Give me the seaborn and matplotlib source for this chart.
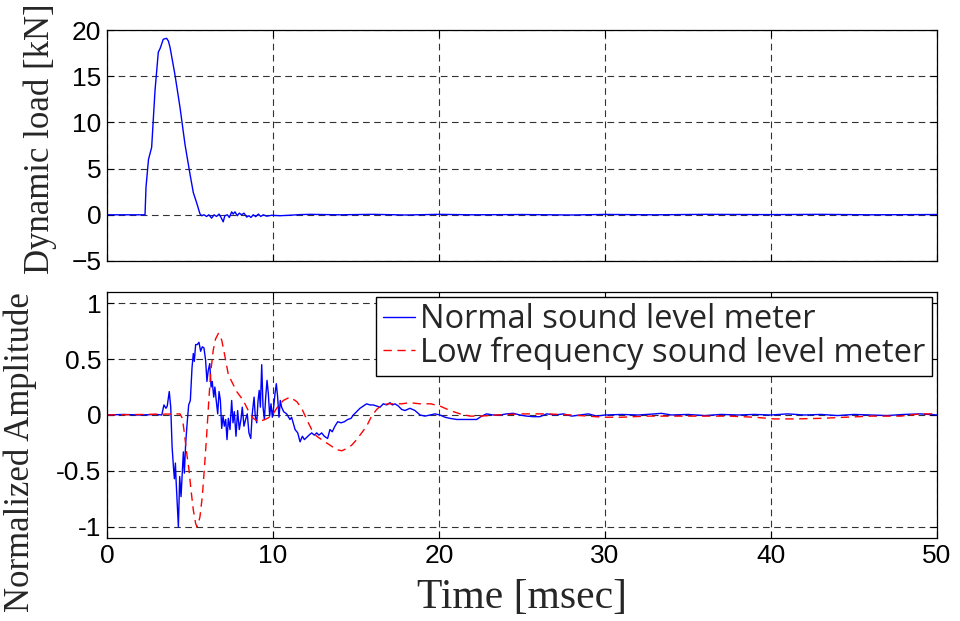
import numpy as np
import pandas as pd
import matplotlib
matplotlib.use("Agg")
import matplotlib.pyplot as plt
import seaborn as sns

# ---------------- data ----------------
t_load = [0, 2.29, 2.35, 2.5, 2.69, 2.89, 3.09, 3.2, 3.39, 3.59, 3.7, 3.8, 4.09, 4.4, 4.7,
          5.0, 5.2, 5.4, 5.6, 5.7, 5.84, 6.0, 6.14, 6.3, 6.45, 6.6, 6.75, 6.87, 7.0, 7.1,
          7.25, 7.37, 7.51, 7.6, 7.71, 7.85, 7.97, 8.11, 8.25, 8.42, 8.55, 8.67, 8.81, 8.96,
          9.12, 9.26, 9.42, 9.62, 9.92, 10.42, 11.0, 11.6, 12.2, 14, 16, 18, 20, 22, 25, 28,
          30, 33, 36, 40, 43, 46, 50]
load_kN = [0, 0, 3.0, 6.0, 7.3, 13.4, 17.6, 18.0, 19.0, 19.1, 18.8, 18.1, 15.2, 11.6, 7.6,
           4.4, 2.4, 1.3, 0.1, -0.1, 0.0, -0.18, 0.0, -0.36, 0.0, -0.18, 0.08, -0.29, -0.76, -0.1,
           0.0, -0.29, 0.32, 0.08, 0.32, -0.1, 0.18, 0.0, 0.18, -0.25, -0.1, -0.29, 0.0, -0.2,
           0.08, -0.18, 0.0, -0.15, -0.05, -0.1, -0.05, 0.02, 0.05, 0.0, 0.05, -0.02, 0.05, 0.0, 0.03, -0.02,
           0.04, 0.0, 0.05, 0.02, 0.05, 0.0, 0.03]

t_normal = [0, 1, 2, 3.0, 3.3, 3.43, 3.55, 3.63, 3.75, 3.84, 3.92, 4.0, 4.06, 4.12, 4.16, 4.24,
            4.3, 4.38, 4.46, 4.54, 4.6, 4.66, 4.74, 4.84, 4.92, 5.02, 5.12, 5.2, 5.26, 5.34,
            5.44, 5.54, 5.64, 5.74, 5.84, 5.94, 6.02, 6.1, 6.19, 6.27, 6.34, 6.43, 6.5, 6.58,
            6.67, 6.75, 6.83, 6.91, 6.99, 7.07, 7.15, 7.23, 7.31, 7.41, 7.51, 7.59, 7.67, 7.77,
            7.87, 7.97, 8.07, 8.15, 8.25, 8.35, 8.45, 8.55, 8.66, 8.75, 8.86, 8.93, 9.02, 9.1,
            9.17, 9.24, 9.32, 9.4, 9.48, 9.56, 9.64, 9.72, 9.8, 9.88, 9.96, 10.04, 10.12, 10.2,
            10.28, 10.36, 10.44, 10.52, 10.64, 10.82, 11.02, 11.12, 11.33, 11.49, 11.63, 11.77,
            11.89, 12.03, 12.17, 12.33, 12.49, 12.63, 12.77, 12.93, 13.09, 13.29, 13.43, 13.57,
            13.73, 13.9, 14.1, 14.3, 14.5, 14.7, 14.84, 15.04, 15.24, 15.44, 15.64, 15.84, 16.04,
            16.25, 16.45, 16.64, 16.85, 17.05, 17.19, 17.35, 17.55, 17.75, 17.95, 18.25, 18.55,
            18.86, 19.16, 19.46, 19.76, 20.06, 20.36, 20.66, 21.07, 21.47, 21.87, 22.27, 22.57,
            22.87, 23.27, 23.67, 24.08, 24.48, 24.88, 25.28, 25.68, 26.08, 26.49, 27, 27.5, 28,
            28.5, 29, 29.5, 30, 31, 32, 33, 33.4, 34, 35, 36, 37, 38, 39, 40, 41, 42, 43, 44, 45,
            46, 47, 48, 49, 50]
amp_normal = [0, 0.005, 0, 0.005, 0, 0.09, 0.06, 0.08, 0.21, 0.07, -0.28, -0.46, -0.57, -0.43, -0.58, -0.82,
              -1.0, -0.55, -0.73, -0.49, -0.33, -0.52, -0.25, -0.05, 0.09, 0.13, 0.42, 0.55, 0.48, 0.63,
              0.63, 0.65, 0.57, 0.61, 0.6, 0.49, 0.3, 0.4, 0.46, 0.25, 0.3, 0.16, 0.25, 0.13,
              0.01, 0.21, 0.13, -0.12, -0.01, -0.1, -0.04, -0.22, -0.03, -0.13, 0.13, -0.07, 0.03, -0.19,
              0.04, -0.13, -0.04, 0.07, -0.1, -0.04, 0.01, -0.16, -0.21, 0.01, 0.16, -0.01, -0.07, 0.13,
              0.22, 0.07, 0.45, 0.07, -0.04, 0.16, 0.31, 0.19, -0.01, 0.1, -0.02, 0.07, 0.19, 0.28,
              0.16, -0.02, 0.13, 0.07, 0.03, 0.01, -0.04, -0.02, -0.13, -0.16, -0.24, -0.19,
              -0.22, -0.2, -0.18, -0.16, -0.18, -0.16, -0.18, -0.16, -0.19, -0.21, -0.13, -0.15,
              -0.1, -0.06, -0.07, -0.06, -0.04, -0.03, 0.0, 0.03, 0.06, 0.08, 0.1, 0.09, 0.09,
              0.08, 0.07, 0.1, 0.09, 0.11, 0.09, 0.1, 0.08, 0.05, 0.04, 0.06, 0.04,
              0.0, -0.01, 0.0, 0.01, 0.0, -0.02, -0.03, -0.04, -0.04, -0.04, -0.04, -0.01,
              0.01, 0.0, 0.0, 0.01, 0.015, 0.0, -0.01, -0.015, -0.015, 0.01, 0.0, 0.01, -0.01,
              0.0, 0.01, -0.01, 0.0, 0.005, 0.0, 0.01, 0.015, 0.0, 0.005, -0.005, 0.005, 0.0, 0.005, 0.0, 0.01, 0.0, 0.005, -0.005, 0.005,
              0.0, -0.005, 0.005, 0.01, 0.0]

t_low = [0, 4.4, 4.54, 4.66, 4.8, 4.94, 5.06, 5.2, 5.34, 5.42, 5.5, 5.6, 5.74, 5.86, 6.0, 6.12,
         6.24, 6.4, 6.54, 6.71, 6.91, 7.11, 7.31, 7.41, 7.81, 8.21, 8.51, 8.81, 9.12, 9.52, 9.92,
         10.22, 10.62, 11.02, 11.43, 11.73, 12.03, 12.33, 12.63, 12.93, 13.23, 13.54, 13.84,
         14.14, 14.44, 14.74, 15.04, 15.34, 15.64, 15.94, 16.25, 16.55, 16.95, 17.35, 17.75,
         18.25, 18.86, 19.5, 20.06, 20.66, 21.27, 21.87, 22.5, 23.5, 25, 26.5, 28, 29.9, 31,
         32.5, 35, 37.5, 39, 40.2, 41.5, 43, 44.5, 46, 47.8, 49, 50]
amp_low = [0, 0.01, -0.03, -0.16, -0.34, -0.49, -0.67, -0.85, -0.97, -1.0, -0.97, -0.91, -0.73, -0.49, -0.19, 0.1,
           0.37, 0.58, 0.68, 0.73, 0.67, 0.52, 0.36, 0.33, 0.21, 0.13, 0.04, -0.03, -0.06, -0.04, -0.01,
           0.06, 0.13, 0.16, 0.12, 0.06, -0.04, -0.13, -0.19, -0.22, -0.25, -0.28, -0.31,
           -0.32, -0.3, -0.27, -0.22, -0.16, -0.1, -0.01, 0.05, 0.09, 0.1, 0.1, 0.1,
           0.11, 0.1, 0.1, 0.08, 0.04, 0.01, -0.01, -0.01, 0.0, 0.01, 0.01, 0.0, -0.02, -0.02,
           -0.01, -0.01, -0.01, -0.02, -0.035, -0.035, -0.03, -0.02, -0.01, -0.01, 0.01, 0.01]

label_normal = "Normal sound level meter"
label_low = "Low frequency sound level meter"
x_ticks = [0, 10, 20, 30, 40, 50]
y_ticks_load = [-5, 0, 5, 10, 15, 20]
y_ticks_amp = [-1, -0.5, 0, 0.5, 1]
y_ticklabels_amp = ["-1", "-0.5", "0", "0.5", "1"]

# ---------------- style ----------------
sns.set_style("ticks")
plt.rcParams["font.family"] = ["Liberation Sans", "DejaVu Sans"]
plt.rcParams["xtick.direction"] = "in"
plt.rcParams["ytick.direction"] = "in"

fig = plt.figure(figsize=(9.6, 6.21), dpi=100)
W, H = 960, 621
ax1 = fig.add_axes([107 / W, 1 - 261 / H, 830 / W, 231 / H])
ax2 = fig.add_axes([107 / W, 1 - 538 / H, 830 / W, 246 / H])

df_load = pd.DataFrame({"t": t_load, "v": load_kN})
df_n = pd.DataFrame({"t": t_normal, "v": amp_normal})
df_l = pd.DataFrame({"t": t_low, "v": amp_low})

sns.lineplot(data=df_load, x="t", y="v", ax=ax1, color="#0000ff", linewidth=1.0,
             estimator=None, sort=False)
sns.lineplot(data=df_n, x="t", y="v", ax=ax2, color="#0000ff", linewidth=1.0,
             estimator=None, sort=False, label=label_normal)
sns.lineplot(data=df_l, x="t", y="v", ax=ax2, color="#ff0000", linewidth=1.0,
             estimator=None, sort=False, label=label_low, dashes=False)
ax2.lines[1].set_dashes((6, 4))

grid_kw = dict(color="0.2", linestyle=(0, (6, 4)), linewidth=0.8)
for ax in (ax1, ax2):
    ax.set_xlim(0, 50)
    ax.set_xticks(x_ticks)
    ax.grid(True, **grid_kw)
    ax.set_axisbelow(True)
    for s in ax.spines.values():
        s.set_color("black")
        s.set_linewidth(0.9)
    ax.tick_params(axis="both", which="major", direction="in", length=5, width=0.8,
                   labelsize=19, colors="black", pad=4, top=True, right=True)
    ax.set_xlabel("")
    ax.set_ylabel("")

ax1.set_ylim(-5, 20)
ax1.set_yticks(y_ticks_load)
ax1.tick_params(axis="x", labelbottom=False)

ax2.set_ylim(-1.1, 1.1)
ax2.set_yticks(y_ticks_amp)
ax2.set_yticklabels(y_ticklabels_amp)

serif = ["Liberation Serif", "DejaVu Serif"]
ax1.set_ylabel("Dynamic load [kN]", family=serif, fontsize=25)
ax1.yaxis.set_label_coords(-0.06, 0.53)
ax2.set_ylabel("Normalized Amplitude", family=serif, fontsize=25)
ax2.yaxis.set_label_coords(-0.084, 0.35)
ax2.set_xlabel("Time [msec]", family=serif, fontsize=30, labelpad=8)

leg = ax2.legend(loc="upper right", prop={"family": ["Open Sans", "DejaVu Sans"], "size": 23.5},
                 frameon=True, fancybox=False, framealpha=1, edgecolor="black",
                 handlelength=1.0, handletextpad=0.15, labelspacing=0.0, borderpad=0.2,
                 borderaxespad=0.15)
leg.get_frame().set_linewidth(1.0)

fig.savefig("out.png", dpi=100)
